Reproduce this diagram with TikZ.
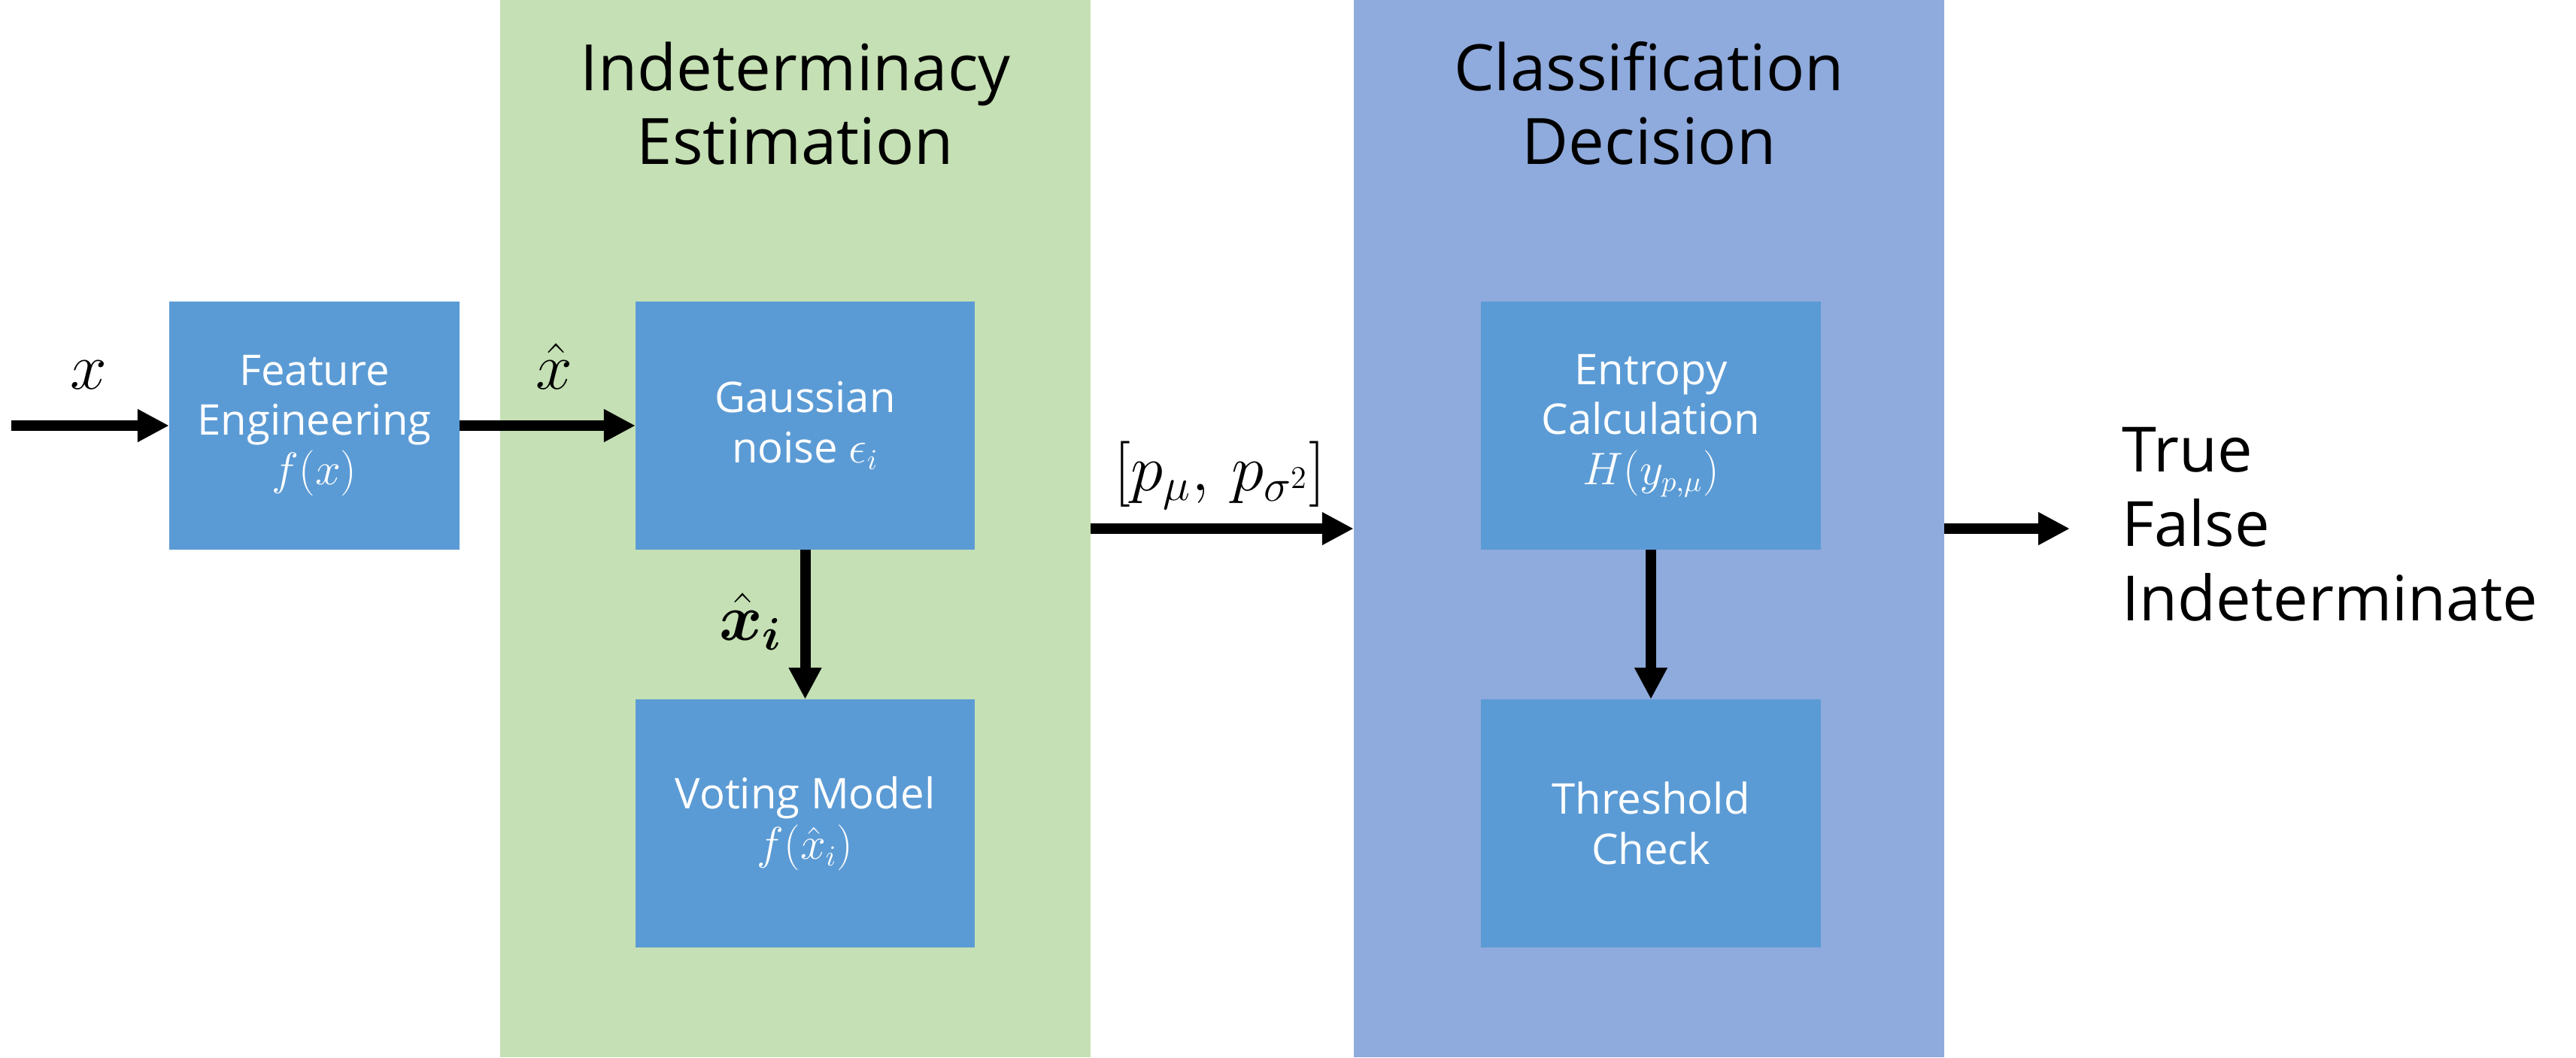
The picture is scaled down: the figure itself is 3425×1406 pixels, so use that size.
\documentclass[tikz,border=0pt]{standalone}
\usepackage{fontspec}
\setmainfont{Open Sans}
\usepackage{amsmath,bm}
\usetikzlibrary{arrows.meta}
\definecolor{panelgreen}{HTML}{C5E0B4}
\definecolor{panelblue}{HTML}{8FAADC}
\definecolor{boxblue}{HTML}{5B9BD5}
\begin{document}
\begin{tikzpicture}[x=0.01cm,y=-0.01cm,
  panel/.style={draw=none,inner sep=0pt,outer sep=0pt,minimum width=7.85cm,minimum height=14.06cm},
  procbox/.style={fill=boxblue,text=white,inner sep=0pt,outer sep=0pt,align=center,
    minimum height=3.30cm,font=\fontsize{16}{18.9}\selectfont},
  titletext/.style={inner sep=0pt,align=center,font=\fontsize{24.2}{27.9}\selectfont},
  outtext/.style={inner sep=0pt,align=left,font=\fontsize{23.6}{28.2}\selectfont},
  lab/.style={inner sep=0pt,anchor=base,font=\fontsize{25}{30}\selectfont},
  arr/.style={line width=0.14cm,-{Triangle[length=0.42cm,width=0.41cm]}}]
\useasboundingbox (0,0) rectangle (3425,1406);
% panels
\node[panel,fill=panelgreen] (green) at (1057.5,703) {};
\node[panel,fill=panelblue] (blue) at (2192.5,703) {};
\node[titletext,anchor=north] (t1) at (1057.5,55) {Indeterminacy\\Estimation};
\node[titletext,anchor=north] (t2) at (2192.5,55) {Classification\\Decision};
% boxes
\node[procbox,minimum width=3.86cm] (feat) at (418,566) {Feature\\Engineering\\$f(x)$};
\node[procbox,minimum width=4.51cm] (gauss) at (1070.5,566) {Gaussian\\noise $\epsilon_i$};
\node[procbox,minimum width=4.51cm] (vote) at (1070.5,1095) {Voting Model\\$f(\hat{x}_i)$};
\node[procbox,minimum width=4.52cm] (ent) at (2195,566) {Entropy\\Calculation\\$H(y_{p,\mu})$};
\node[procbox,minimum width=4.52cm] (thr) at (2195,1095) {Threshold\\Check};
% coordinates
\coordinate (in) at (15,566);
\coordinate (mid) at (1622,703);
\coordinate (outend) at (2752,703);
% arrows
\draw[arr] (in) -- (feat);
\draw[arr] (feat) -- (gauss);
\draw[arr] (gauss) -- (vote);
\draw[arr] (green.east |- mid) -- (blue.west |- mid);
\draw[arr] (ent) -- (thr);
\draw[arr] (blue.east |- mid) -- (outend);
% labels
\node[lab] (lx) at (118,517) {$x$};
\node[lab] (lxh) at (737,517) {$\hat{x}$};
\node[lab] (lxi) at (998,851) {$\bm{\hat{x}_i}$};
\node[lab] (lp) at (1622,652) {$[p_\mu,\, p_{\sigma^2}]$};
% output
\node[outtext,anchor=west] (out) at (2821,697) {True\\False\\Indeterminate};
\end{tikzpicture}
\end{document}
